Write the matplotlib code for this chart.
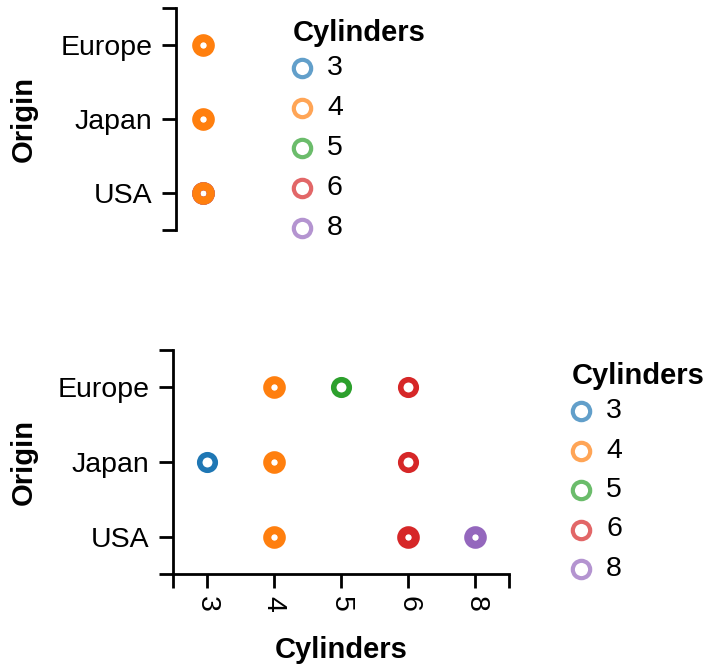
import matplotlib
matplotlib.use('Agg')
import matplotlib.pyplot as plt

plt.rcParams['font.family'] = ['Liberation Sans', 'DejaVu Sans']

# data: cars grouped by origin and cylinders (estimated counts)
origins = ['Europe', 'Japan', 'USA']
cyl_levels = [3, 4, 5, 6, 8]
rec_origin = ['Europe', 'Europe', 'Europe', 'Japan', 'Japan', 'Japan', 'USA', 'USA', 'USA']
rec_cyl = [4, 5, 6, 3, 4, 6, 4, 6, 8]
rec_count = [63, 3, 4, 4, 69, 6, 72, 74, 103]
# top view has no x field: everything overlaps, last drawn rows are 4-cylinder
top_draw_order = [3, 5, 6, 8, 4]

colors = {3: '#1f77b4', 4: '#ff7f0e', 5: '#2ca02c', 6: '#d62728', 8: '#9467bd'}

W, H = 710, 667
fig = plt.figure(figsize=(W / 100, H / 100), dpi=100)


def px_axes(left, top, right, bottom):
    return fig.add_axes([left / W, 1 - bottom / H, (right - left) / W, (bottom - top) / H])


def ring(count):
    # heavily overplotted points look almost filled
    if count >= 20:
        return 10.5, 5.8
    return 11.2, 4.0


def style_axis(ax):
    for s in ['top', 'right']:
        ax.spines[s].set_visible(False)
    for s in ['left', 'bottom']:
        ax.spines[s].set_linewidth(2)
    ax.tick_params(which='both', length=10, width=2, color='black', labelsize=20.5)
    ax.set_yticks(range(len(origins)))
    ax.set_yticklabels(origins)
    ax.set_yticks([-0.5, len(origins) - 0.5], minor=True)
    ax.set_ylim(len(origins) - 0.5, -0.5)
    ax.tick_params(axis='y', pad=7)


# ---- top view ----
ax1 = px_axes(176, 8, 230, 230)
style_axis(ax1)
ax1.spines['bottom'].set_visible(False)
ax1.set_xticks([])
ax1.set_xlim(-0.5, 0.5)
for c in top_draw_order:
    for o, cy, n in zip(rec_origin, rec_cyl, rec_count):
        if cy != c:
            continue
        ms, mew = ring(n)
        ax1.plot(0, origins.index(o), 'o', ms=ms, mew=mew, mfc='none',
                 mec=colors[c], clip_on=False)

# ---- bottom view ----
ax2 = px_axes(173, 350, 509, 574)
style_axis(ax2)
ax2.set_xlim(-0.5, len(cyl_levels) - 0.5)
ax2.set_xticks(range(len(cyl_levels)))
ax2.set_xticklabels([str(c) for c in cyl_levels], rotation=-90, ha='center', va='top')
ax2.set_xticks([-0.5, len(cyl_levels) - 0.5], minor=True)
ax2.tick_params(axis='x', pad=6)
for o, cy, n in zip(rec_origin, rec_cyl, rec_count):
    ms, mew = ring(n)
    ax2.plot(cyl_levels.index(cy), origins.index(o), 'o', ms=ms, mew=mew,
             mfc='none', mec=colors[cy], clip_on=False)

# ---- overlay for titles and legends ----
ov = fig.add_axes([0, 0, 1, 1])
ov.set_xlim(0, W)
ov.set_ylim(H, 0)
ov.axis('off')

ov.text(24, 119, 'Origin', rotation=90, ha='center', va='center', fontsize=21, fontweight='bold')
ov.text(24, 462, 'Origin', rotation=90, ha='center', va='center', fontsize=21, fontweight='bold')
ov.text(341, 650, 'Cylinders', ha='center', va='center', fontsize=21, fontweight='bold')


def legend(x0, y0, step):
    ov.text(x0 - 9, y0 - 35, 'Cylinders', ha='left', va='center', fontsize=21, fontweight='bold')
    for i, c in enumerate(cyl_levels):
        y = y0 + i * step
        ov.plot(x0, y, 'o', ms=12.5, mew=3.0, mfc='none', mec=colors[c], alpha=0.7)
        ov.text(x0 + 25, y, str(c), ha='left', va='center', fontsize=20.5)


legend(302, 68, 40)
legend(581, 411, 39.5)

fig.savefig('out.png', dpi=100)
